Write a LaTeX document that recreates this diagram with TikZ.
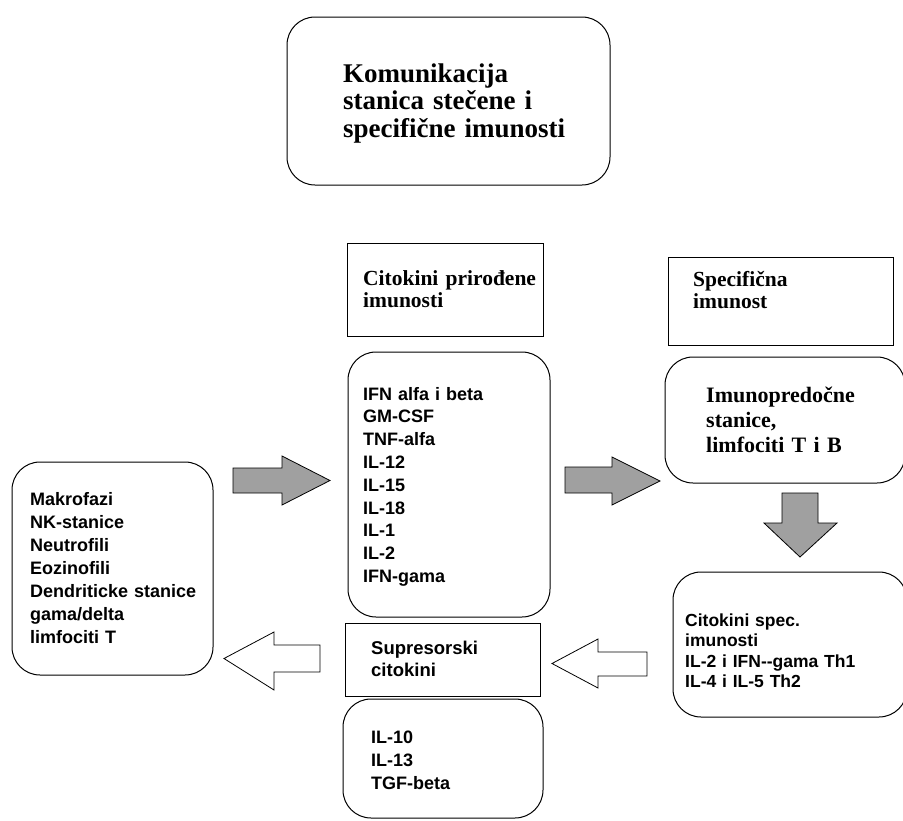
\documentclass[tikz,border=0pt]{standalone}
\usepackage{fontspec}
\setmainfont{Liberation Serif}
\newfontfamily\arialf{Liberation Sans}
\begin{document}
\begin{tikzpicture}[x=1pt,y=-1pt,
  box/.style={draw=black, line width=1pt, inner sep=0pt, fill=white},
  rbox/.style={box, rounded corners=28pt},
  txt/.style={anchor=base west, inner sep=0pt, align=left, text width=260pt},
  grayarrow/.style={draw=black, line width=0.8pt, fill={rgb,255:red,160;green,160;blue,160}},
  whitearrow/.style={draw=black, line width=0.8pt, fill=white}
]
\useasboundingbox (0,0) rectangle (903,820);
\fill[white] (0,0) rectangle (903,820);

% boxes
\node[rbox, minimum width=323pt, minimum height=168pt] (title) at (448.5,101) {};
\node[box, minimum width=196pt, minimum height=93pt] (citprir) at (445,289.5) {};
\node[rbox, minimum width=202pt, minimum height=265pt] (ifn) at (449,484.5) {};
\node[box, minimum width=225pt, minimum height=88pt] (spec) at (780.5,301) {};
\node[rbox, minimum width=240pt, minimum height=126pt] (imuno) at (785,420) {};
\node[rbox, minimum width=201pt, minimum height=213pt] (makro) at (112.5,568.5) {};
\node[rbox, minimum width=234pt, minimum height=145pt] (citspec) at (790,644.5) {};
\node[box, minimum width=195pt, minimum height=73pt] (supres) at (442.5,659.5) {};
\node[rbox, minimum width=200pt, minimum height=119pt] (il10) at (443,758.5) {};

% texts
\node[txt, font=\bfseries\fontsize{27}{27.5}\selectfont] (titletxt) at (343,82)
  {Komunikacija\\stanica stečene i\\specifične imunosti};
\node[txt, font=\bfseries\fontsize{21.5}{22}\selectfont] (citprirtxt) at (363,285)
  {Citokini prirođene\\imunosti};
\node[txt, font=\bfseries\fontsize{21.5}{22.5}\selectfont] (spectxt) at (693,286)
  {Specifična\\imunost};
\node[txt, font=\bfseries\fontsize{22}{25}\selectfont] (imunotxt) at (706,402)
  {Imunopredočne\\stanice,\\limfociti T i B};
\node[txt, font=\arialf\bfseries\fontsize{18}{22.8}\selectfont] (ifntxt) at (363,400)
  {IFN alfa i beta\\GM-CSF\\TNF-alfa\\IL-12\\IL-15\\IL-18\\IL-1\\IL-2\\IFN-gama};
\node[txt, font=\arialf\bfseries\fontsize{18}{23}\selectfont] (makrotxt) at (30,505)
  {Makrofazi\\NK-stanice\\Neutrofili\\Eozinofili\\Dendriticke stanice\\gama/delta\\limfociti T};
\node[txt, font=\arialf\bfseries\fontsize{17.5}{20.6}\selectfont] (citspectxt) at (685,626)
  {Citokini spec.\\imunosti\\IL-2 i IFN-{}-gama Th1\\IL-4 i IL-5 Th2};
\node[txt, font=\arialf\bfseries\fontsize{18.5}{22.5}\selectfont] (suprestxt) at (371,654)
  {Supresorski\\citokini};
\node[txt, font=\arialf\bfseries\fontsize{18}{23}\selectfont] (il10txt) at (371,743)
  {IL-10\\IL-13\\TGF-beta};

% block arrows
\draw[grayarrow] (233,468) -- (282,468) -- (282,456) -- (330,480.5) -- (282,505) -- (282,493) -- (233,493) -- cycle;
\draw[grayarrow] (565,467) -- (612,467) -- (612,457) -- (660,481) -- (612,505) -- (612,493) -- (565,493) -- cycle;
\draw[grayarrow] (782,493) -- (818,493) -- (818,523) -- (837,523) -- (800,557) -- (764,523) -- (782,523) -- cycle;
\draw[whitearrow] (647,652) -- (598,652) -- (598,639) -- (552,663.5) -- (598,688) -- (598,676) -- (647,676) -- cycle;
\draw[whitearrow] (320,645) -- (274,645) -- (274,632) -- (224,658.5) -- (274,690) -- (274,672) -- (320,672) -- cycle;
\end{tikzpicture}
\end{document}
